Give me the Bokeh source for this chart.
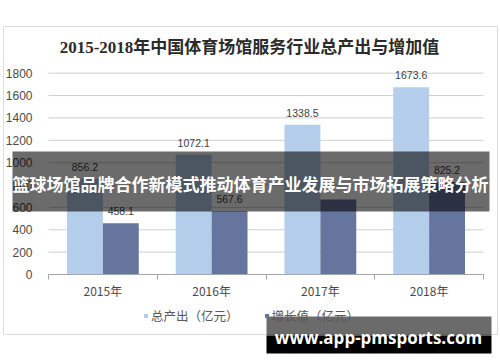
from bokeh.plotting import figure
from bokeh.models import (ColumnDataSource, Range1d, LinearAxis, FixedTicker, Label,
                          LabelSet, BoxAnnotation, Legend, LegendItem)
from bokeh.core.properties import value
from bokeh.embed import file_html
from bokeh.resources import INLINE

# ---- data ----
categories = ["2015年", "2016年", "2017年", "2018年"]
total_output = [856.2, 1072.1, 1338.5, 1673.6]
added_value = [458.1, 567.6, 670.0, 825.2]
added_value_labels = ["458.1", "567.6", "", "825.2"]
y_ticks = [0, 200, 400, 600, 800, 1000, 1200, 1400, 1600, 1800]
series_names = ["总产出（亿元）", "增长值（亿元）"]
title_text = "2015-2018年中国体育场馆服务行业总产出与增加值"
banner_text = "篮球场馆品牌合作新模式推动体育产业发展与市场拓展策略分析"
url_text = "www.app-pmsports.com"

LIGHT = "#B4CDEA"
DARK = "#66759E"
CJK = "Noto Sans CJK SC"

W, H = 500, 362
# pixel geometry of the plotting area inside the canvas
PX_L, PX_R, PX_TOP, PX_BOT = 48, 483, 72.7, 274
YMAX = 1800
ncat = len(categories)
ux = (PX_R - PX_L) / ncat              # px per category
uy = (PX_BOT - PX_TOP) / YMAX          # px per value unit

x_range = Range1d(-PX_L / ux, ncat + (W - PX_R) / ux)
y_range = Range1d(-(H - PX_BOT) / uy, YMAX + PX_TOP / uy)

centers = [i + 0.5 for i in range(ncat)]
src = ColumnDataSource(dict(
    xl=[c - 0.165 for c in centers],
    xd=[c + 0.165 for c in centers],
    tot=total_output,
    add=added_value,
    tot_lab=["%.1f" % v for v in total_output],
    add_lab=added_value_labels,
))

p = figure(width=W, height=H, output_backend="svg", toolbar_location=None,
           x_range=x_range, y_range=y_range,
           x_axis_type=None, y_axis_type=None,
           min_border=0)
p.outline_line_color = None
p.background_fill_color = "white"
p.border_fill_color = "white"
p.xgrid.visible = False
p.ygrid.visible = False

# canvas pixel -> screen units (frame == canvas, y measured upward)
def sx(cx):
    return cx

def sy(cy):
    return H - cy

def sbox(l, r, t, b, **kw):
    return BoxAnnotation(left=sx(l), right=sx(r), top=sy(t), bottom=sy(b),
                         left_units="screen", right_units="screen",
                         top_units="screen", bottom_units="screen", **kw)

# outer chart border
p.add_layout(sbox(3, 497, 26, 334, fill_alpha=0, line_color="#8f8f8f", line_width=1,
                  level="underlay"))

# grid lines (only across the plotting area)
p.segment(x0=[0] * len(y_ticks), x1=[ncat] * len(y_ticks), y0=y_ticks, y1=y_ticks,
          line_color="#cfcfcf", line_width=1, level="underlay")

# axes drawn at fixed data locations
yax = LinearAxis(ticker=FixedTicker(ticks=y_ticks), fixed_location=0)
yax.axis_line_color = None
yax.major_tick_line_color = None
yax.minor_tick_line_color = None
yax.major_label_text_font = "Liberation Sans"
yax.major_label_text_font_size = "12px"
yax.major_label_text_color = "#4a4a4a"
yax.major_label_standoff = 10
p.add_layout(yax, "left")

xax = LinearAxis(ticker=FixedTicker(ticks=centers, minor_ticks=list(range(ncat + 1))),
                 fixed_location=0, bounds=(0, ncat))
xax.major_label_overrides = {c: lab for c, lab in zip(centers, categories)}
xax.major_tick_in = 0
xax.major_tick_out = 0
xax.minor_tick_in = 0
xax.minor_tick_out = 5
xax.axis_line_color = "#a6a6a6"
xax.minor_tick_line_color = "#a6a6a6"
xax.major_label_text_font = CJK
xax.major_label_text_font_size = "12px"
xax.major_label_text_color = "#4a4a4a"
xax.major_label_standoff = 2
p.add_layout(xax, "below")

r1 = p.vbar(x="xl", top="tot", bottom=0, width=0.33, source=src, fill_color=LIGHT, line_color=None)
r2 = p.vbar(x="xd", top="add", bottom=0, width=0.33, source=src, fill_color=DARK, line_color=None)

for col, xcol in (("tot", "xl"), ("add", "xd")):
    p.add_layout(LabelSet(x=xcol, y=col, text=col + "_lab", source=src,
                          text_align="center", text_baseline="middle", y_offset=12,
                          text_font=value("Liberation Sans"), text_font_size="10.5px",
                          text_color="#404040"))

# legend
leg = Legend(items=[LegendItem(label=series_names[0], renderers=[r1]),
                    LegendItem(label=series_names[1], renderers=[r2])],
             orientation="horizontal", location=(sx(143), sy(325)),
             glyph_width=5, glyph_height=5, label_height=14, label_standoff=3,
             spacing=25, padding=0, margin=0, border_line_color=None,
             background_fill_alpha=0,
             label_text_font=CJK, label_text_font_size="12.5px",
             label_text_color="#595959")
p.add_layout(leg, "center")

# title
p.add_layout(Label(x=sx(249), y=sy(47), x_units="screen", y_units="screen",
                   text=title_text, text_align="center", text_baseline="middle",
                   text_font="Liberation Serif, Noto Sans CJK SC", text_font_style="bold",
                   text_font_size="17px", text_color="#2b2b2b"))

# banner overlay
p.add_layout(sbox(12, 489, 151, 211, fill_color="black", fill_alpha=0.58,
                  line_color=None, level="overlay"))
p.add_layout(Label(x=sx(250), y=sy(183), x_units="screen", y_units="screen",
                   text=banner_text, text_align="center", text_baseline="middle",
                   text_font=CJK, text_font_style="bold",
                   text_font_size="17px", text_color="white", level="overlay"))

# url box
p.add_layout(sbox(266, 491, 316, 335, fill_color="black", fill_alpha=0.58,
                  line_color=None, level="overlay"))
p.add_layout(sbox(266, 491, 335, 353, fill_color="black", fill_alpha=1.0,
                  line_color=None, level="overlay"))
p.add_layout(Label(x=sx(378), y=sy(337), x_units="screen", y_units="screen",
                   text=url_text, text_align="center", text_baseline="middle",
                   text_font="Open Sans", text_font_style="bold",
                   text_font_size="17px", text_color="white", level="overlay"))

open("out.html", "w").write(file_html(p, INLINE))
